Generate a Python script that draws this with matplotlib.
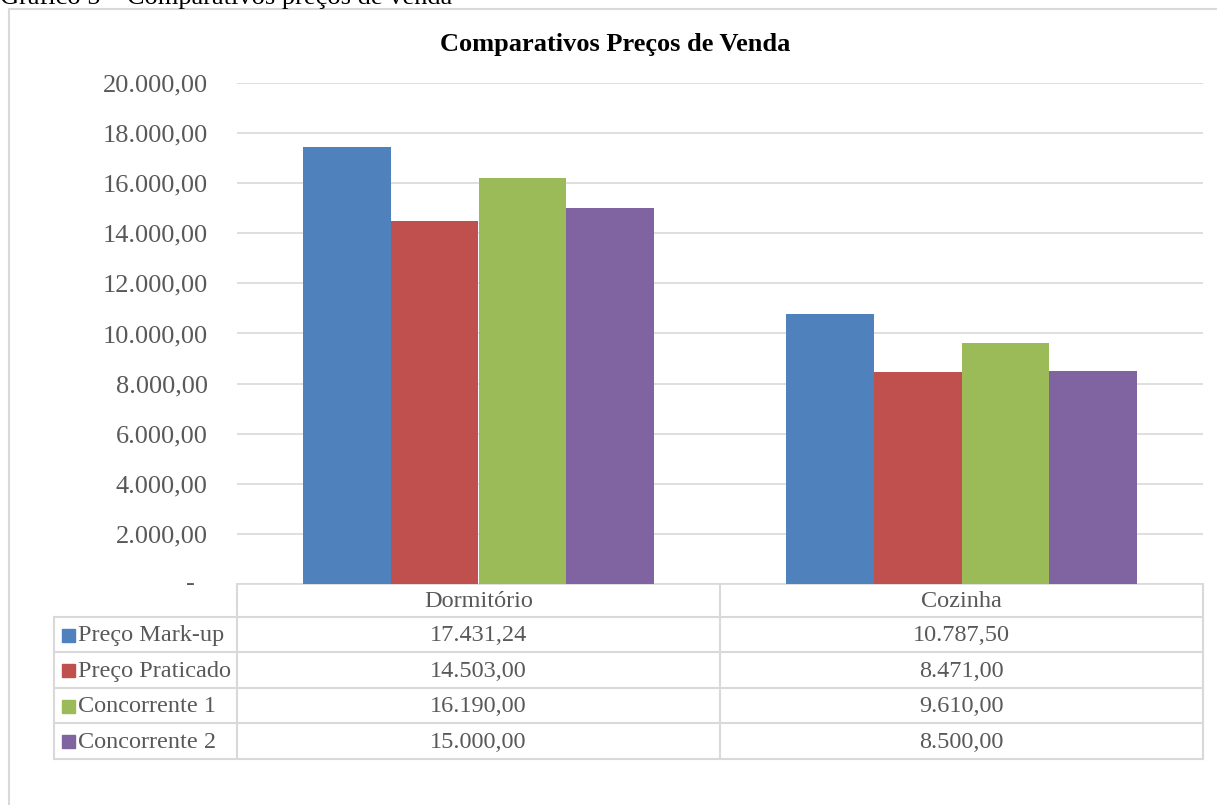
import matplotlib
matplotlib.use("Agg")
import matplotlib.pyplot as plt
from matplotlib.patches import Rectangle
import numpy as np

categories = ["Dormitório", "Cozinha"]
series_names = ["Preço Mark-up", "Preço Praticado", "Concorrente 1", "Concorrente 2"]
preco_markup = [17431.24, 10787.50]
preco_praticado = [14503.00, 8471.00]
concorrente_1 = [16190.00, 9610.00]
concorrente_2 = [15000.00, 8500.00]
series_values = [preco_markup, preco_praticado, concorrente_1, concorrente_2]
colors = ["#4F81BD", "#C0504D", "#9BBB59", "#8064A2"]
y_ticks = [0, 2000, 4000, 6000, 8000, 10000, 12000, 14000, 16000, 18000, 20000]

W, H = 1217, 805
plt.rcParams["font.family"] = ["Liberation Serif", "DejaVu Serif"]
text_color = "#595959"
grid_color = "#D9D9D9"


def br(v):
    s = f"{v:,.2f}"
    return s.replace(",", "X").replace(".", ",").replace("X", ".")


fig = plt.figure(figsize=(W / 100, H / 100), dpi=100)

# plot area in pixel coordinates
px_left, px_right, px_top, px_bottom = 237, 1203, 83, 584
ax = fig.add_axes([px_left / W, 1 - px_bottom / H,
                   (px_right - px_left) / W, (px_bottom - px_top) / H])
n_cat = len(categories)
n_ser = len(series_values)
group_w = 0.725
bw = group_w / n_ser
x = np.arange(n_cat)
for i, (vals, c) in enumerate(zip(series_values, colors)):
    ax.bar(x - group_w / 2 + bw * (i + 0.5), vals, width=bw, color=c, zorder=3)
ax.set_xlim(-0.5, n_cat - 0.5)
ax.set_ylim(0, 20000)
ax.set_yticks(y_ticks)
ax.set_yticklabels(["" if t == 0 else br(t) for t in y_ticks],
                   fontsize=19, color=text_color)
ax.tick_params(axis="y", length=0, pad=21)
ax.set_xticks([])
ax.grid(axis="y", color=grid_color, linewidth=1.2, zorder=0)
for s in ["top", "right", "left"]:
    ax.spines[s].set_visible(False)
ax.spines["bottom"].set_color(grid_color)
ax.spines["bottom"].set_linewidth(1.2)

# overlay in pixel coordinates for caption, frame, title and data table
ov = fig.add_axes([0, 0, 1, 1], zorder=5)
ov.set_xlim(0, W)
ov.set_ylim(H, 0)
ov.axis("off")
ov.patch.set_alpha(0)

# zero label of the value axis ("-" in accounting style)
ov.text(190, 584, "-", fontsize=19, ha="center", va="center", color=text_color)

ov.plot([9, 9], [9, H], color="#D9D9D9", lw=1.5)
ov.plot([9, W], [9, 9], color="#D9D9D9", lw=1.5)
ov.text(0, 4, "Gráfico 5 – Comparativos preços de venda", fontsize=19,
        color="black", va="baseline", ha="left")

ov.text(615, 45, "Comparativos Preços de Venda", fontsize=19, fontweight="bold",
        ha="center", va="center", color="black")

col_x = [237, 720, 1203]
row_y = [584, 617, 652, 688, 723, 759]
leg_left = 54
lc = grid_color
lw = 1.5
for cx in col_x:
    ov.plot([cx, cx], [row_y[0], row_y[-1]], color=lc, lw=lw)
ov.plot([leg_left, leg_left], [row_y[1], row_y[-1]], color=lc, lw=lw)
for ry in row_y[1:]:
    ov.plot([leg_left, col_x[-1]], [ry, ry], color=lc, lw=lw)

fs_tab = 17.5
centers = [(col_x[j] + col_x[j + 1]) / 2 for j in range(n_cat)]
for j, cat in enumerate(categories):
    ov.text(centers[j], (row_y[0] + row_y[1]) / 2 + 1, cat, fontsize=fs_tab,
            ha="center", va="center", color=text_color)
for i, (name, vals, c) in enumerate(zip(series_names, series_values, colors)):
    yc = (row_y[i + 1] + row_y[i + 2]) / 2
    ov.add_patch(Rectangle((62, yc - 6), 13, 13, color=c))
    ov.text(78, yc + 1, name, fontsize=fs_tab, ha="left", va="center", color=text_color)
    for j, v in enumerate(vals):
        ov.text(centers[j], yc + 1, br(v), fontsize=fs_tab, ha="center", va="center",
                color=text_color)

fig.savefig("out.png", dpi=100)
